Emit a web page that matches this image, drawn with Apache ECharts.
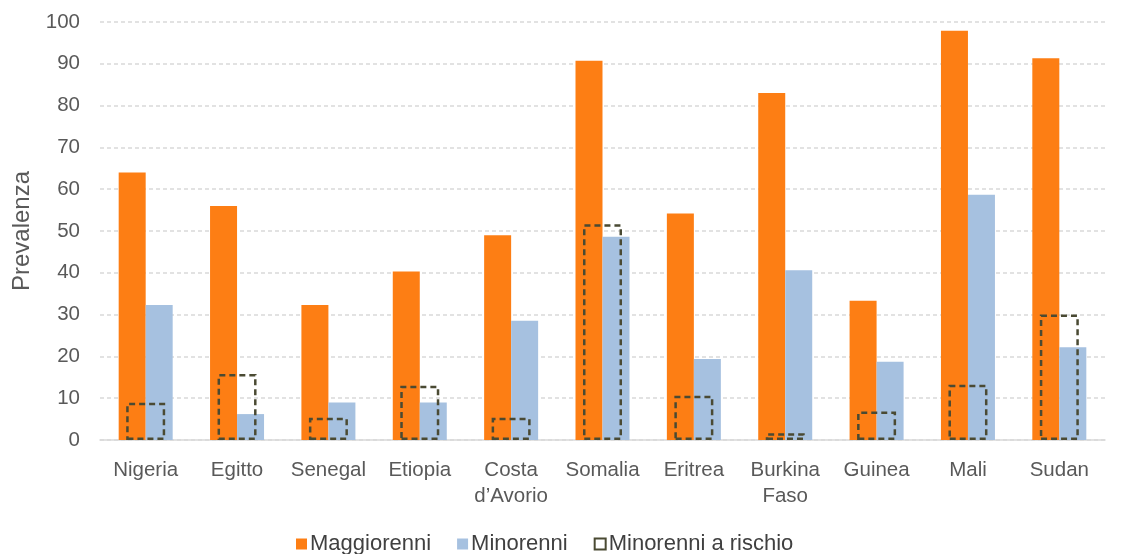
<!DOCTYPE html>
<html>
<head>
<meta charset="utf-8">
<script src="https://cdn.jsdelivr.net/npm/echarts@6/dist/echarts.min.js"></script>
<style>
  html, body { margin: 0; padding: 0; background: #ffffff; }
  #chart { width: 1129px; height: 554px; }
</style>
</head>
<body>
<div id="chart"></div>
<script>
// Countries on the category axis
const countries = ['Nigeria', 'Egitto', 'Senegal', 'Etiopia', 'Costa\nd\u2019Avorio', 'Somalia',
                   'Eritrea', 'Burkina\nFaso', 'Guinea', 'Mali', 'Sudan'];
// Prevalence among adults
const maggiorenni = [64, 56, 32.3, 40.3, 49, 90.7, 54.2, 83, 33.3, 97.9, 91.3];
// Prevalence among minors
const minorenni = [32.3, 6.2, 9, 9, 28.5, 48.6, 19.4, 40.6, 18.7, 58.7, 22.2];
// Minors at risk
const minorenniRischio = [8.9, 15.8, 5.3, 13, 5.3, 51.6, 10.6, 1.6, 6.8, 13.2, 30];
// Value axis ticks
const yMin = 0, yMax = 100, yStep = 10;

const FONT = '"Liberation Sans", Arial, Helvetica, sans-serif';
const chart = echarts.init(document.getElementById('chart'), null, { renderer: 'canvas' });

chart.setOption({
  animation: false,
  backgroundColor: '#ffffff',
  textStyle: { fontFamily: FONT },
  grid: { left: 100, right: 24, top: 22, bottom: 114, containLabel: false },
  legend: {
    top: 528,
    left: 291,
    icon: 'rect',
    itemWidth: 11,
    itemHeight: 11,
    itemGap: 26,
    textStyle: { fontFamily: FONT, fontSize: 22, color: '#404040', padding: [0, 0, 0, -2] },
    data: ['Maggiorenni', 'Minorenni', 'Minorenni a rischio']
  },
  xAxis: [
    {
      type: 'category',
      data: countries,
      axisLine: { show: true, lineStyle: { color: '#d9d9d9', width: 1.5 } },
      axisTick: { show: false },
      axisLabel: { fontFamily: FONT, fontSize: 20.5, color: '#595959', margin: 17, lineHeight: 26, interval: 0 }
    },
    {
      type: 'category',
      data: countries,
      show: false
    }
  ],
  yAxis: {
    type: 'value',
    min: yMin,
    max: yMax,
    interval: yStep,
    name: 'Prevalenza',
    nameLocation: 'middle',
    nameGap: 66,
    nameTextStyle: { fontFamily: FONT, fontSize: 24, color: '#595959' },
    axisLine: { show: false },
    axisTick: { show: false },
    axisLabel: { fontFamily: FONT, fontSize: 20.5, color: '#595959', margin: 20 },
    splitLine: { show: true, lineStyle: { color: '#d9d9d9', width: 1.5, type: [4, 3] } }
  },
  series: [
    {
      name: 'Maggiorenni',
      type: 'bar',
      xAxisIndex: 0,
      data: maggiorenni,
      barWidth: 27,
      barGap: '0%',
      itemStyle: { color: '#fd7e14' },
      z: 2
    },
    {
      name: 'Minorenni',
      type: 'bar',
      xAxisIndex: 0,
      data: minorenni,
      barWidth: 27,
      barGap: '0%',
      itemStyle: { color: '#a6c1e0' },
      z: 2
    },
    {
      name: 'Minorenni a rischio',
      type: 'bar',
      xAxisIndex: 1,
      data: minorenniRischio,
      barWidth: 39,
      itemStyle: {
        color: 'rgba(255,255,255,0)',
        borderColor: '#4a4a33',
        borderWidth: 2.5,
        borderType: [6, 4]
      },
      z: 5
    }
  ]
});
</script>
</body>
</html>
